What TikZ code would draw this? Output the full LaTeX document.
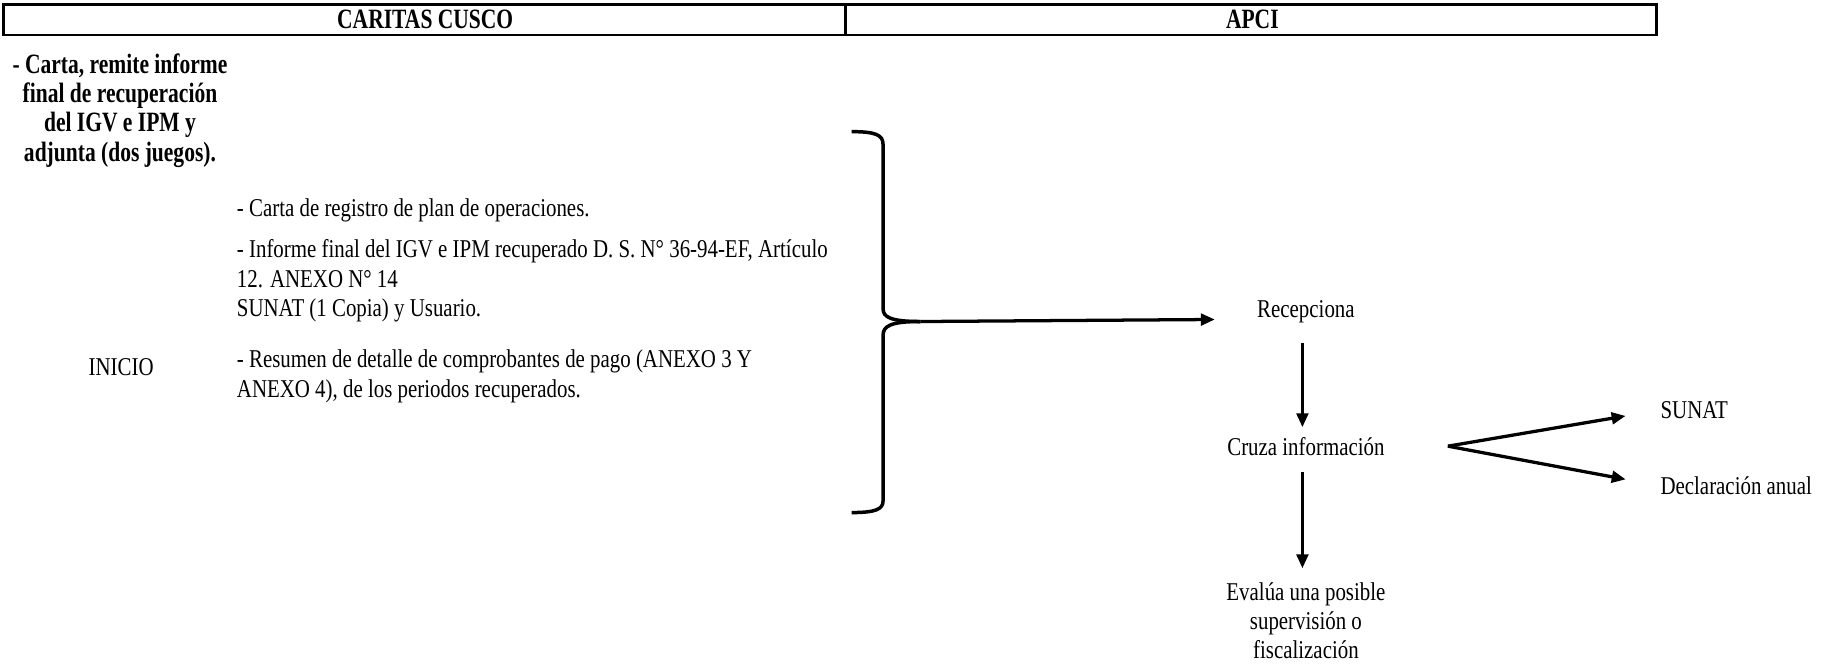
\documentclass[tikz,border=0pt]{standalone}
\usepackage{fontspec}
\setmainfont{Liberation Serif}[FakeStretch=0.815]
\newfontfamily\headfont{Liberation Serif}[FakeStretch=0.77]
\usetikzlibrary{positioning,arrows.meta}
\tikzset{
  every node/.style={
    inner sep=0pt,
    font=\fontsize{11}{12.5}\selectfont
  },
  txt/.style={align=left, anchor=west},
  boldtxt/.style={font=\fontsize{12}{12.5}\selectfont\headfont\bfseries, align=center},
  flow/.style={line width=1.4pt, -{Triangle[length=6pt,width=5pt]}},
  brace/.style={line width=1.5pt}
}

\begin{document}
\begin{tikzpicture}[x=0.5pt,y=-0.5pt]
  \useasboundingbox (0,0) rectangle (1564,572);
  % header row
  \draw[line width=1.1pt] (3,4) rectangle (1422,30);
  \draw[line width=1.1pt] (726,4) -- (726,30);
  \node[boldtxt] (caritas) at (365,17) {CARITAS CUSCO};
  \node[boldtxt] (apci) at (1075,17) {APCI};
  % caritas side
  \node[boldtxt] (carta) at (103,95) {- Carta, remite informe\\final de recuperación\\del IGV e IPM y\\adjunta (dos juegos).};
  \node[txt] (registro) at (203,181) {- Carta de registro de plan de operaciones.};
  \node[txt] (informe) at (203,241) {- Informe final del IGV e IPM recuperado D. S. N° 36-94-EF, Artículo\\12. ANEXO N° 14\\SUNAT (1 Copia) y Usuario.};
  \node[txt] (resumen) at (203,323) {- Resumen de detalle de comprobantes de pago (ANEXO 3 Y\\ANEXO 4), de los periodos recuperados.};
  \node (inicio) at (104,315) {INICIO};
  % bracket
  \draw[brace] (731,113) .. controls (752,113) and (758,116) .. (758,124)
    -- (758,265) .. controls (758,272) and (764,276) .. (790,276);
  \draw[brace] (790,276) .. controls (764,276) and (758,280) .. (758,288)
    -- (758,430) .. controls (758,437) and (752,440) .. (731,440);
  \coordinate (tip) at (790,276);
  % apci side
  \node (recep) at (1121,268) {Recepciona};
  \node[on grid, below=57.5pt of recep] (cruza) {Cruza información};
  \node[on grid, below=75pt of cruza, align=center] (evalua) {Evalúa una posible\\supervisión o\\fiscalización};
  \node[anchor=west] (sunat) at (1425,352) {SUNAT};
  \node[anchor=west] (decl) at (1425,417) {Declaración anual};
  \coordinate[right=27pt of cruza.east] (fork);
  \draw[flow, shorten >=18pt] (tip) -- ([yshift=-3pt]recep.west);
  \draw[flow, shorten <=8pt, shorten >=4pt] ([xshift=-1.5pt]recep.south) -- ([xshift=-1.5pt]cruza.north);
  \draw[flow, shorten <=7pt, shorten >=6pt] ([xshift=-1.5pt]cruza.south) -- ([xshift=-1.5pt]evalua.north);
  \draw[flow, shorten >=15pt] (fork) -- (sunat.west);
  \draw[flow, shorten >=15pt] (fork) -- (decl.west);
\end{tikzpicture}
\end{document}
